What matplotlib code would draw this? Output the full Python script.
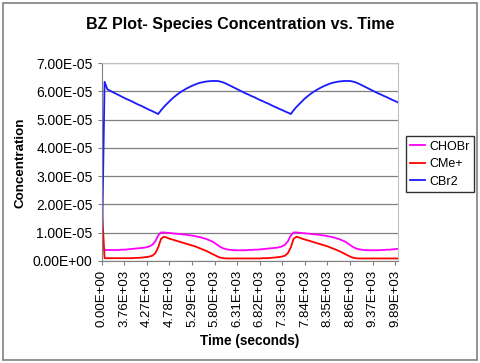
import matplotlib
matplotlib.use("Agg")
import matplotlib.pyplot as plt
from matplotlib.patches import Rectangle
from matplotlib.ticker import FuncFormatter, MultipleLocator

plt.rcParams['font.family'] = ['Liberation Sans', 'DejaVu Sans']

# concentrations in units of 1e-5, one value per sample (category axis, as in Excel)
scale = 1e-5
chobr = [0.39, 0.39, 0.39, 0.39, 0.39, 0.39, 0.39, 0.40, 0.40, 0.41,
         0.42, 0.43, 0.44, 0.45, 0.46, 0.47, 0.49, 0.52, 0.58, 0.70,
         0.90, 1.01, 1.01, 1.00, 0.99, 0.98, 0.97, 0.96, 0.95, 0.94,
         0.93, 0.91, 0.90, 0.88, 0.86, 0.84, 0.81, 0.78, 0.74, 0.70,
         0.64, 0.57, 0.50, 0.45, 0.42, 0.40, 0.39, 0.38, 0.38, 0.38,
         0.38, 0.38, 0.39, 0.39, 0.40, 0.40, 0.41, 0.42, 0.43, 0.44,
         0.45, 0.46, 0.47, 0.49, 0.52, 0.58, 0.70, 0.90, 1.01, 1.01,
         1.00, 0.99, 0.98, 0.97, 0.96, 0.95, 0.94, 0.93, 0.91, 0.90,
         0.88, 0.86, 0.84, 0.81, 0.78, 0.74, 0.70, 0.64, 0.57, 0.50,
         0.45, 0.42, 0.40, 0.39, 0.38, 0.38, 0.38, 0.38, 0.38, 0.39,
         0.39, 0.40, 0.40, 0.41, 0.42, 0.43]
cme = [1.95, 0.10, 0.10, 0.10, 0.10, 0.10, 0.10, 0.10, 0.10, 0.10,
       0.10, 0.10, 0.11, 0.11, 0.12, 0.13, 0.14, 0.16, 0.19, 0.28,
       0.48, 0.78, 0.86, 0.83, 0.79, 0.76, 0.73, 0.70, 0.67, 0.64,
       0.61, 0.58, 0.55, 0.52, 0.48, 0.44, 0.40, 0.36, 0.31, 0.26,
       0.21, 0.16, 0.12, 0.10, 0.09, 0.09, 0.09, 0.09, 0.09, 0.09,
       0.09, 0.09, 0.09, 0.09, 0.09, 0.09, 0.09, 0.10, 0.10, 0.10,
       0.11, 0.12, 0.13, 0.14, 0.16, 0.19, 0.28, 0.48, 0.78, 0.86,
       0.83, 0.79, 0.76, 0.73, 0.70, 0.67, 0.64, 0.61, 0.58, 0.55,
       0.52, 0.48, 0.44, 0.40, 0.36, 0.31, 0.26, 0.21, 0.16, 0.12,
       0.10, 0.09, 0.09, 0.09, 0.09, 0.09, 0.09, 0.09, 0.09, 0.09,
       0.09, 0.09, 0.09, 0.09, 0.09, 0.09]
cbr2 = [0.00, 6.34, 6.07, 6.02, 5.97, 5.92, 5.87, 5.82, 5.77, 5.72,
        5.68, 5.63, 5.58, 5.53, 5.49, 5.44, 5.39, 5.34, 5.30, 5.25,
        5.20, 5.33, 5.45, 5.55, 5.65, 5.75, 5.83, 5.91, 5.98, 6.04,
        6.10, 6.15, 6.20, 6.24, 6.28, 6.31, 6.33, 6.35, 6.36, 6.37,
        6.37, 6.37, 6.35, 6.32, 6.28, 6.23, 6.18, 6.13, 6.08, 6.03,
        5.98, 5.93, 5.89, 5.84, 5.80, 5.75, 5.70, 5.66, 5.61, 5.57,
        5.52, 5.47, 5.43, 5.38, 5.34, 5.29, 5.25, 5.20, 5.33, 5.45,
        5.55, 5.65, 5.75, 5.83, 5.91, 5.98, 6.04, 6.10, 6.15, 6.20,
        6.24, 6.28, 6.31, 6.33, 6.35, 6.36, 6.37, 6.37, 6.37, 6.35,
        6.32, 6.28, 6.23, 6.18, 6.13, 6.08, 6.03, 5.98, 5.93, 5.89,
        5.84, 5.80, 5.75, 5.70, 5.66, 5.61]

time_labels = ['0.00E+00', '3.76E+03', '4.27E+03', '4.78E+03', '5.29E+03',
               '5.80E+03', '6.31E+03', '6.82E+03', '7.33E+03', '7.84E+03',
               '8.35E+03', '8.86E+03', '9.37E+03', '9.89E+03']
label_every = 8

fig = plt.figure(figsize=(4.8, 3.63), dpi=100)
fig.patches.append(Rectangle((0.006, 0.008), 0.987, 0.983, transform=fig.transFigure,
                             fill=False, edgecolor='#808080', linewidth=1.2))
ax = fig.add_axes([0.212, 0.281, 0.617, 0.545])

idx = range(len(cbr2))
ax.plot(idx, [v * scale for v in chobr], color='#ff00ff', lw=1.3, label='CHOBr')
ax.plot(idx, [v * scale for v in cme], color='#ff0000', lw=1.3, label='CMe+')
ax.plot(idx, [v * scale for v in cbr2], color='#1a1aff', lw=1.3, label='CBr2')

ax.set_xlim(0, len(cbr2) - 1)
ax.set_ylim(0, 7e-5)
ax.yaxis.set_major_locator(MultipleLocator(1e-5))
ax.yaxis.set_major_formatter(FuncFormatter(lambda v, p: f"{v:.2E}"))
ax.set_xticks([i * label_every for i in range(len(time_labels))])
ax.set_xticklabels(time_labels, rotation=90)
ax.tick_params(axis='both', direction='out', length=3, color='#808080')
ax.tick_params(axis='y', labelsize=10)
ax.tick_params(axis='x', labelsize=9.5)
ax.grid(axis='y', color='#808080', lw=0.9)
ax.set_axisbelow(True)
for s in ['top', 'right']:
    ax.spines[s].set_color('#c0c0c0')
for s in ['left', 'bottom']:
    ax.spines[s].set_color('#808080')

fig.text(0.5, 0.932, 'BZ Plot- Species Concentration vs. Time', fontsize=11.5,
         fontweight='bold', ha='center', va='center')
fig.text(0.521, 0.061, 'Time (seconds)', fontsize=9.8, fontweight='bold',
         ha='center', va='center')
fig.text(0.042, 0.553, 'Concentration', fontsize=9.6, fontweight='bold',
         ha='center', va='center', rotation=90)

fig.legend(loc='upper left', bbox_to_anchor=(0.846, 0.625), fontsize=9, frameon=True,
           fancybox=False, edgecolor='black', handlelength=1.2, handletextpad=0.3,
           borderpad=0.35, labelspacing=0.45, borderaxespad=0)

fig.savefig('out.png', dpi=100)
